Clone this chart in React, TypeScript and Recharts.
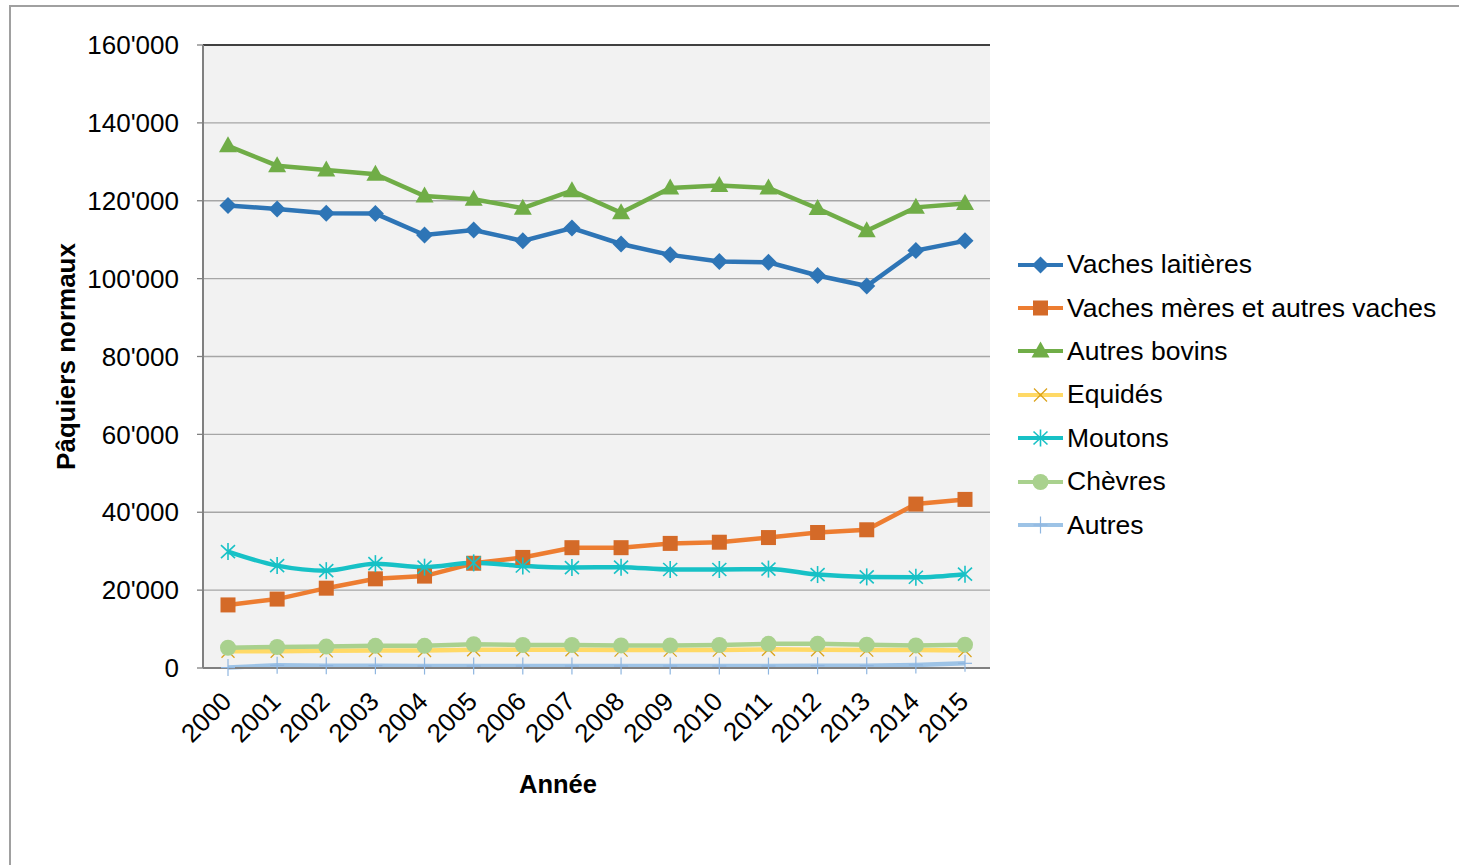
import React from 'react';
import { LineChart, Line, XAxis, YAxis, CartesianGrid, Legend, ReferenceLine } from 'recharts';

const years = ['2000', '2001', '2002', '2003', '2004', '2005', '2006', '2007', '2008', '2009', '2010', '2011', '2012', '2013', '2014', '2015'];
const vachesLaitieres = [118800, 117900, 116800, 116700, 111200, 112500, 109700, 113000, 108900, 106100, 104400, 104200, 100800, 98100, 107200, 109700];
const vachesMeres = [16200, 17700, 20500, 22900, 23600, 26900, 28400, 30900, 30900, 32000, 32300, 33500, 34800, 35500, 42100, 43300];
const autresBovins = [134100, 129000, 127900, 126800, 121200, 120400, 118100, 122600, 116900, 123300, 123900, 123300, 118000, 112300, 118300, 119300];
const equides = [4300, 4300, 4400, 4500, 4500, 4700, 4700, 4700, 4600, 4600, 4600, 4800, 4700, 4600, 4600, 4500];
const moutons = [29900, 26300, 25000, 26800, 25900, 27000, 26200, 25800, 25900, 25300, 25300, 25400, 24000, 23400, 23300, 24100];
const chevres = [5200, 5400, 5500, 5700, 5700, 6100, 5900, 5900, 5800, 5800, 5900, 6200, 6200, 6000, 5800, 6000];
const autres = [100, 700, 600, 600, 500, 500, 500, 500, 500, 500, 500, 500, 600, 600, 800, 1200];
const yTicks = [0, 20000, 40000, 60000, 80000, 100000, 120000, 140000, 160000];

const data = years.map((year, i) => ({
  year,
  vl: vachesLaitieres[i],
  vm: vachesMeres[i],
  ab: autresBovins[i],
  eq: equides[i],
  mo: moutons[i],
  ch: chevres[i],
  au: autres[i],
}));

type Shape = 'diamond' | 'square' | 'triangle' | 'x' | 'star' | 'circle' | 'plus';

const series: { key: string; name: string; line: string; marker: string; shape: Shape; smooth: boolean }[] = [
  { key: 'vl', name: 'Vaches laitières', line: '#2e75b6', marker: '#2e75b6', shape: 'diamond', smooth: false },
  { key: 'vm', name: 'Vaches mères et autres vaches', line: '#ed7d31', marker: '#d46a28', shape: 'square', smooth: false },
  { key: 'ab', name: 'Autres bovins', line: '#70ad47', marker: '#70ad47', shape: 'triangle', smooth: false },
  { key: 'eq', name: 'Equidés', line: '#ffd966', marker: '#dba21a', shape: 'x', smooth: false },
  { key: 'mo', name: 'Moutons', line: '#17c1c6', marker: '#17c1c6', shape: 'star', smooth: true },
  { key: 'ch', name: 'Chèvres', line: '#a9d18e', marker: '#a9d18e', shape: 'circle', smooth: false },
  { key: 'au', name: 'Autres', line: '#9dc3e6', marker: '#8fb6e0', shape: 'plus', smooth: false },
];

const FONT = '"Liberation Sans", Arial, sans-serif';

function Marker({ shape, cx, cy, color }: { shape: Shape; cx: number; cy: number; color: string }) {
  if (cx == null || cy == null) return null;
  switch (shape) {
    case 'diamond': {
      const s = 8.5;
      return <path d={`M${cx},${cy - s}L${cx + s},${cy}L${cx},${cy + s}L${cx - s},${cy}Z`} fill={color} />;
    }
    case 'square':
      return <rect x={cx - 7.5} y={cy - 7.5} width={15} height={15} fill={color} />;
    case 'triangle':
      return <path d={`M${cx},${cy - 9.5}L${cx + 9},${cy + 6.5}L${cx - 9},${cy + 6.5}Z`} fill={color} />;
    case 'x':
      return (
        <g stroke={color} strokeWidth={1.3}>
          <line x1={cx - 6.5} y1={cy - 6.5} x2={cx + 6.5} y2={cy + 6.5} />
          <line x1={cx - 6.5} y1={cy + 6.5} x2={cx + 6.5} y2={cy - 6.5} />
        </g>
      );
    case 'star':
      return (
        <g stroke={color} strokeWidth={1.6}>
          <line x1={cx} y1={cy - 8.5} x2={cx} y2={cy + 8.5} />
          <line x1={cx - 7} y1={cy - 6.5} x2={cx + 7} y2={cy + 6.5} />
          <line x1={cx - 7} y1={cy + 6.5} x2={cx + 7} y2={cy - 6.5} />
        </g>
      );
    case 'circle':
      return <circle cx={cx} cy={cy} r={8} fill={color} />;
    case 'plus':
      return (
        <g stroke={color} strokeWidth={1.2}>
          <line x1={cx} y1={cy - 8.5} x2={cx} y2={cy + 8.5} />
          <line x1={cx - 7} y1={cy} x2={cx + 7} y2={cy} />
        </g>
      );
  }
  return null;
}

function fmt(v: number) {
  const s = String(Math.round(v));
  return s.replace(/\B(?=(\d{3})+(?!\d))/g, "'");
}

function XTick(props: any) {
  const { x, y, payload } = props;
  const ex = x + 5;
  const ey = y + 35;
  return (
    <text x={ex} y={ey} transform={`rotate(-45 ${ex} ${ey})`} textAnchor="end" fontSize={26} fontFamily={FONT} fill="#000">
      {payload.value}
    </text>
  );
}

function LegendContent() {
  return (
    <div style={{ fontFamily: FONT, fontSize: 26.5, color: '#000' }}>
      {series.map((s) => (
        <div key={s.key} style={{ height: 43.4, display: 'flex', alignItems: 'center', whiteSpace: 'nowrap' }}>
          <svg width={46} height={24} style={{ display: 'block' }}>
            <line x1={0} y1={12} x2={45} y2={12} stroke={s.line} strokeWidth={4} />
            <Marker shape={s.shape} cx={22.5} cy={12} color={s.marker} />
          </svg>
          <span style={{ marginLeft: 3 }}>{s.name}</span>
        </div>
      ))}
    </div>
  );
}

export default function App() {
  return (
    <div style={{ position: 'absolute', left: 0, top: 0, width: 1459, height: 865, background: '#fff', overflow: 'hidden' }}>
      <div style={{ position: 'absolute', left: 9, top: 5, width: 1470, height: 900, border: '2px solid #a0a0a0', boxSizing: 'border-box' }} />
      <LineChart width={1459} height={865} data={data} margin={{ top: 45, right: 469, bottom: 97, left: 0 }}>
        <CartesianGrid vertical={false} fill="#f2f2f2" stroke="#a6a6a6" strokeWidth={1.3} />
        <XAxis
          dataKey="year"
          padding={{ left: 25, right: 25 }}
          height={100}
          tickLine={false}
          tickSize={0}
          tickMargin={0}
          axisLine={{ stroke: '#808080', strokeWidth: 2 }}
          tick={<XTick />}
          interval={0}
          label={({ viewBox }: any) => (
            <text x={viewBox.x + 355} y={viewBox.y + 116} textAnchor="middle" dominantBaseline="central" fontSize={25.5} fontWeight="bold" fontFamily={FONT} fill="#000">
              Année
            </text>
          )}
        />
        <YAxis
          width={203}
          domain={[0, 160000]}
          ticks={yTicks}
          tickFormatter={fmt}
          tickSize={6}
          tickMargin={18}
          tickLine={{ stroke: '#808080', strokeWidth: 1.3 }}
          axisLine={{ stroke: '#808080', strokeWidth: 2 }}
          tick={{ fontSize: 26, fontFamily: FONT, fill: '#000' }}
          interval={0}
          label={({ viewBox }: any) => (
            <text x={66} y={viewBox.y + viewBox.height / 2} transform={`rotate(-90 66 ${viewBox.y + viewBox.height / 2})`} textAnchor="middle" dominantBaseline="central" fontSize={26} fontWeight="bold" fontFamily={FONT} fill="#000">
              Pâquiers normaux
            </text>
          )}
        />
        <YAxis yAxisId="r" orientation="right" width={0} tick={false} tickLine={false} axisLine={{ stroke: '#333', strokeWidth: 2.5 }} />
        <ReferenceLine y={160000} stroke="#404040" strokeWidth={2} />
        {series.map((s) => (
          <Line
            key={s.key}
            dataKey={s.key}
            name={s.name}
            type={s.smooth ? 'monotone' : 'linear'}
            stroke={s.line}
            strokeWidth={4.5}
            isAnimationActive={false}
            dot={(p: any) => <Marker key={`${s.key}-${p.index}`} shape={s.shape} cx={p.cx} cy={p.cy} color={s.marker} />}
            activeDot={false}
          />
        ))}
        <Legend layout="vertical" align="center" verticalAlign="middle" content={<LegendContent />} wrapperStyle={{ left: 1018, top: 243, width: 440 }} />
      </LineChart>
    </div>
  );
}
